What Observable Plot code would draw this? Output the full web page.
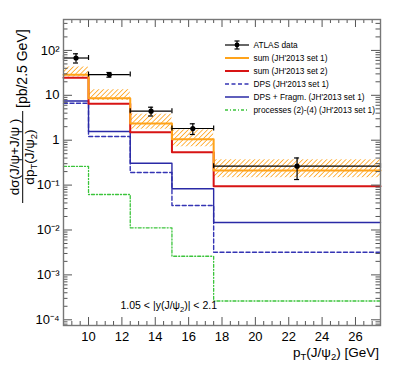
<!DOCTYPE html>
<html>
<head>
<meta charset="utf-8">
<script src="https://cdn.jsdelivr.net/npm/d3@7"></script>
<script src="https://cdn.jsdelivr.net/npm/@observablehq/plot@0.6"></script>
<style>
  html, body { margin: 0; padding: 0; background: #fff; }
  #chart { width: 399px; height: 388px; }
</style>
</head>
<body>
<div id="chart"></div>
<script>
// ---- data ----
const binEdges = [8.5, 10, 12.5, 15, 17.5, 27.5];
const sumSet1 = [28.6, 8.6, 2.36, 1.05, 0.211];
const sumSet1Lo = [25.6, 7.66, 1.76, 0.713, 0.146];
const sumSet1Hi = [42.7, 13.3, 3.79, 1.69, 0.366];
const sumSet2 = [24.5, 6.47, 1.51, 0.54, 0.094];
const dps = [6.67, 1.21, 0.191, 0.0351, 0.0032];
const dpsFragm = [7.46, 1.56, 0.307, 0.0827, 0.0147];
const processes = [0.26, 0.0618, 0.0112, 0.0026, 0.000262];
const dataX = [9.25, 11.25, 13.75, 16.25, 22.5];
const dataY = [67.7, 29, 4.43, 1.82, 0.264];
const dataLo = [52.4, 25.3, 3.46, 1.34, 0.133];
const dataHi = [84, 32.2, 5.43, 2.32, 0.402];
const dataXLo = [8.5, 10, 12.5, 15, 17.5];
const dataXHi = [10, 12.5, 15, 17.5, 27.5];
const xMajorTicks = [10, 12, 14, 16, 18, 20, 22, 24, 26];
const xTickLabels = ["10", "12", "14", "16", "18", "20", "22", "24", "26"];
const yMajorTicks = [1e-4, 1e-3, 1e-2, 1e-1, 1, 10, 100];
const yTickLabels = ["10⁻⁴", "10⁻³", "10⁻²", "10⁻¹", "1", "10", "10²"];

const W = 399, H = 388, mL = 63, mR = 19, mT = 19, mB = 63;
const fw = W - mL - mR, fh = H - mT - mB;
const yDomain = [7.46e-5, 488];
const xDomain = [8.5, 27.5];

const xMinorTicks = d3.range(9, 27.5, 0.5).filter(v => !xMajorTicks.includes(v));
const yMinorTicks = [];
for (let e = -5; e <= 2; e++) for (let k = 2; k <= 9; k++) {
  const v = k * Math.pow(10, e);
  if (v > yDomain[0] && v < yDomain[1]) yMinorTicks.push(v);
}

function steps(vals) {
  const out = [];
  vals.forEach((v, i) => { out.push({x: binEdges[i], y: v}); out.push({x: binEdges[i + 1], y: v}); });
  return out;
}
const band = sumSet1.map((v, i) => ({x1: binEdges[i], x2: binEdges[i + 1], lo: sumSet1Lo[i], hi: sumSet1Hi[i]}));
const pts = dataX.map((x, i) => ({x, y: dataY[i], lo: dataLo[i], hi: dataHi[i], xlo: dataXLo[i], xhi: dataXHi[i]}));

const C = {
  orange: "#ffa31a", red: "#d81414", blue: "#2a2aa6", blueDash: "#3434b4", green: "#3cc43c", axis: "#555"
};

const font = "'Liberation Sans', Arial, Helvetica, sans-serif";

const plot = Plot.plot({
  width: W, height: H,
  marginLeft: mL, marginRight: mR, marginTop: mT, marginBottom: mB,
  style: {fontFamily: font, background: "#fff", color: "#000"},
  x: {domain: xDomain, axis: null},
  y: {type: "log", domain: yDomain, axis: null},
  marks: [
    Plot.rect(band, {x1: "x1", x2: "x2", y1: "lo", y2: "hi", fill: "url(#hatch)"}),
    Plot.line(steps(processes), {x: "x", y: "y", stroke: C.green, strokeWidth: 1.3, strokeDasharray: "3,2,1,2"}),
    Plot.line(steps(dps), {x: "x", y: "y", stroke: C.blueDash, strokeWidth: 1.4, strokeDasharray: "4,2.5"}),
    Plot.line(steps(dpsFragm), {x: "x", y: "y", stroke: C.blue, strokeWidth: 1.4}),
    Plot.line(steps(sumSet2), {x: "x", y: "y", stroke: C.red, strokeWidth: 2}),
    Plot.line(steps(sumSet1), {x: "x", y: "y", stroke: C.orange, strokeWidth: 2}),
    // data
    Plot.ruleX(pts, {x: "x", y1: "lo", y2: "hi", stroke: "#000", strokeWidth: 1.2}),
    Plot.ruleY(pts, {y: "y", x1: "xlo", x2: "xhi", stroke: "#000", strokeWidth: 1.2}),
    Plot.ruleY(pts, {y: "lo", x1: "x", x2: "x", insetLeft: -2.5, insetRight: -2.5, stroke: "#000", strokeWidth: 1.2}),
    Plot.ruleY(pts, {y: "hi", x1: "x", x2: "x", insetLeft: -2.5, insetRight: -2.5, stroke: "#000", strokeWidth: 1.2}),
    Plot.ruleX(pts, {x: "xlo", y1: "y", y2: "y", insetTop: -2.5, insetBottom: -2.5, stroke: "#000", strokeWidth: 1.2}),
    Plot.ruleX(pts, {x: "xhi", y1: "y", y2: "y", insetTop: -2.5, insetBottom: -2.5, stroke: "#000", strokeWidth: 1.2}),
    Plot.dot(pts, {x: "x", y: "y", r: 2.6, fill: "#000"}),
    // ticks (inside the frame, all four sides)
    Plot.tickX(xMajorTicks, {x: d => d, insetTop: fh - 8, stroke: C.axis}),
    Plot.tickX(xMinorTicks, {x: d => d, insetTop: fh - 4, stroke: C.axis}),
    Plot.tickX(xMajorTicks, {x: d => d, insetBottom: fh - 8, stroke: C.axis}),
    Plot.tickX(xMinorTicks, {x: d => d, insetBottom: fh - 4, stroke: C.axis}),
    Plot.tickY(yMajorTicks, {y: d => d, insetRight: fw - 9, stroke: C.axis}),
    Plot.tickY(yMinorTicks, {y: d => d, insetRight: fw - 4.5, stroke: C.axis}),
    Plot.tickY(yMajorTicks, {y: d => d, insetLeft: fw - 9, stroke: C.axis}),
    Plot.tickY(yMinorTicks, {y: d => d, insetLeft: fw - 4.5, stroke: C.axis}),
    Plot.frame({stroke: "#777", strokeWidth: 1.4}),
    // tick labels
    Plot.text(xMajorTicks, {x: d => d, frameAnchor: "bottom", dy: 11, text: (d, i) => xTickLabels[i], fontSize: 13, lineAnchor: "middle"}),
    Plot.text(yMajorTicks, {y: d => d, frameAnchor: "left", dx: -4, textAnchor: "end", text: (d, i) => yTickLabels[i], fontSize: 13, lineAnchor: "middle"})
  ]
});

const svg = d3.select(plot);
// hatch pattern
const defs = svg.insert("defs", ":first-child");
defs.append("pattern")
  .attr("id", "hatch").attr("patternUnits", "userSpaceOnUse")
  .attr("width", 3.4).attr("height", 3.4).attr("patternTransform", "rotate(45)")
  .append("line").attr("x1", 0).attr("y1", 0).attr("x2", 0).attr("y2", 3.4)
  .attr("stroke", C.orange).attr("stroke-width", 1.6);

// y-axis title (fraction)
const gy = svg.append("g").attr("transform", "translate(22.7,157) rotate(-90)")
  .attr("font-family", font).attr("font-size", 13.5).attr("fill", "#000");
gy.append("text").attr("text-anchor", "middle").attr("x", 0).attr("y", -4).text("dσ(J/ψ+J/ψ )");
gy.append("line").attr("x1", -46).attr("x2", 46).attr("y1", 0).attr("y2", 0).attr("stroke", "#000").attr("stroke-width", 1);
const den = gy.append("text").attr("text-anchor", "middle").attr("x", 0).attr("y", 11.5);
den.append("tspan").text("dp");
den.append("tspan").attr("font-size", 9.5).attr("dy", 3).text("T");
den.append("tspan").attr("dy", -3).text("(J/ψ");
den.append("tspan").attr("font-size", 9.5).attr("dy", 3).text("2");
den.append("tspan").attr("dy", -3).text(")");
gy.append("text").attr("text-anchor", "start").attr("x", 49).attr("y", 4.5).attr("font-size", 14).text("[pb/2.5 GeV]");

// x-axis title
const xt = svg.append("text").attr("font-family", font).attr("font-size", 13.5)
  .attr("text-anchor", "end").attr("x", 379).attr("y", 357);
xt.append("tspan").text("p");
xt.append("tspan").attr("font-size", 9.5).attr("dy", 3).text("T");
xt.append("tspan").attr("dy", -3).text("(J/ψ");
xt.append("tspan").attr("font-size", 9.5).attr("dy", 3).text("2");
xt.append("tspan").attr("dy", -3).text(") [GeV]");

// annotation
const an = svg.append("text").attr("font-family", font).attr("font-size", 10.5)
  .attr("text-anchor", "start").attr("x", 120.5).attr("y", 309);
an.append("tspan").text("1.05 < |y(J/ψ");
an.append("tspan").attr("font-size", 7.5).attr("dy", 2.5).text("2");
an.append("tspan").attr("dy", -2.5).text(")| < 2.1");

// legend
const legend = [
  {label: "ATLAS data", type: "data"},
  {label: "sum (JH'2013 set 1)", stroke: C.orange, w: 2},
  {label: "sum (JH'2013 set 2)", stroke: C.red, w: 2},
  {label: "DPS (JH'2013 set 1)", stroke: C.blueDash, w: 1.5, dash: "4,2.5"},
  {label: "DPS + Fragm. (JH'2013 set 1)", stroke: C.blue, w: 1.5},
  {label: "processes (2)-(4) (JH'2013 set 1)", stroke: C.green, w: 1.3, dash: "3,2,1,2"}
];
const lg = svg.append("g").attr("font-family", font).attr("font-size", 8.3).attr("text-anchor", "start");
legend.forEach((d, i) => {
  const y = 45 + i * 13;
  if (d.type === "data") {
    lg.append("line").attr("x1", 225).attr("x2", 249).attr("y1", y).attr("y2", y).attr("stroke", "#000").attr("stroke-width", 1.2);
    lg.append("line").attr("x1", 237).attr("x2", 237).attr("y1", y - 4).attr("y2", y + 4).attr("stroke", "#000").attr("stroke-width", 1.2);
    lg.append("line").attr("x1", 234.5).attr("x2", 239.5).attr("y1", y - 4).attr("y2", y - 4).attr("stroke", "#000").attr("stroke-width", 1.2);
    lg.append("line").attr("x1", 234.5).attr("x2", 239.5).attr("y1", y + 4).attr("y2", y + 4).attr("stroke", "#000").attr("stroke-width", 1.2);
    lg.append("circle").attr("cx", 237).attr("cy", y).attr("r", 2.4).attr("fill", "#000");
  } else {
    lg.append("line").attr("x1", 225).attr("x2", 249).attr("y1", y).attr("y2", y)
      .attr("stroke", d.stroke).attr("stroke-width", d.w).attr("stroke-dasharray", d.dash || null);
  }
  lg.append("text").attr("x", 253.5).attr("y", y + 3).attr("text-anchor", "start").text(d.label);
});

document.getElementById("chart").appendChild(plot);
</script>
</body>
</html>
